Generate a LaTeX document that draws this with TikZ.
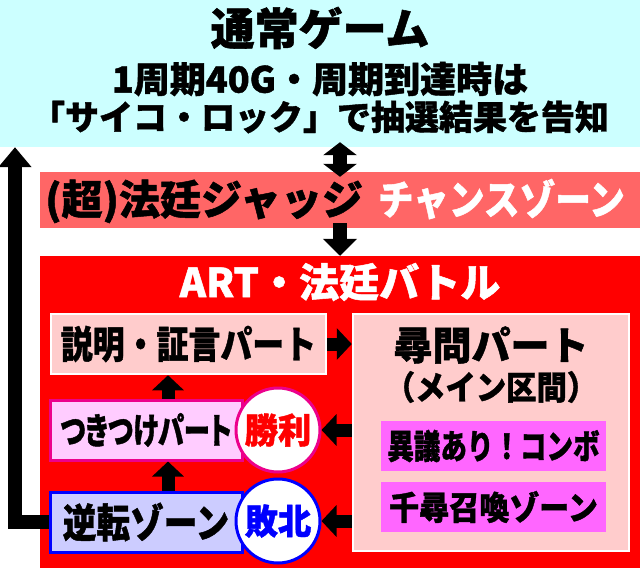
\documentclass[tikz,border=0pt]{standalone}
\usepackage{fontspec}
\usepackage{graphicx}
\usetikzlibrary{arrows.meta,calc}
\newfontfamily\jpfont{Noto Sans CJK JP}[BoldFeatures={FakeBold=1.2}]
\newfontfamily\jppfont{Noto Sans CJK JP}[RawFeature=+palt,BoldFeatures={FakeBold=1.2}]
\newcommand{\fsz}[1]{\fontsize{#1}{#1}\selectfont}
\newcommand{\sq}[2]{\scalebox{#1}[1]{#2}}
\definecolor{normalbg}{HTML}{CCFFFF}
\definecolor{judgebg}{HTML}{FF6666}
\definecolor{partbg}{HTML}{FFCCCC}
\definecolor{combobg}{HTML}{FF66FF}
\definecolor{tsukibg}{HTML}{FFCCFF}
\definecolor{gyakubg}{HTML}{CCCCFF}
\definecolor{winred}{HTML}{FF0000}
\definecolor{loseblue}{HTML}{0000FF}
\begin{document}
\begin{tikzpicture}
			[x=1pt,y=-1pt,
			every node/.style={inner sep=0pt},
			txt/.style={font=\jpfont\bfseries\fsz{#1}},
			ptxt/.style={font=\jppfont\bfseries\fsz{#1}},
			part/.style={draw=white,line width=2.5pt,fill=partbg},
			combo/.style={fill=combobg,minimum width=225pt,minimum height=50pt},
			result/.style={circle,fill=white,line width=3pt,minimum size=84pt},
			fat/.style={line width=13pt,-{Triangle[width=31pt,length=15pt]}},
			dbl/.style={line width=14pt,{Triangle[width=33pt,length=13pt]}-{Triangle[width=33pt,length=13pt]}}]
			\useasboundingbox (0,0) rectangle (640,570);
			% normal game
			\node[fill=normalbg,minimum width=640pt,minimum height=147pt] (normal) at (320,73.5) {};
			\node[txt=44] (title) at (320,28) {通常ゲーム};
			\node[txt=36] (cycle) at (320,79) {1周期40G・周期到達時は};
			\node[txt=34] (notice) at (320,117) {「サイコ・ロック」で抽選結果を告知};
			% chance zone
			\node[fill=judgebg,minimum width=600pt,minimum height=56pt] (judge) at (340,200) {};
			\node[txt=41,anchor=west] (judgetext) at (45,201) {(超)法廷ジャッジ\hspace{15pt}\textcolor{white}{\sq{0.87}{チャンスゾーン}}};
			% ART
			\node[fill=red,minimum width=600pt,minimum height=312pt] (art) at (340,412) {};
			\node[txt=40,text=white] (arttitle) at (340,282) {ART・法廷バトル};
			\node[part,txt=38,minimum width=275pt,minimum height=60pt] (setsumei) at (188.5,344) {\sq{0.84}{説明・証言パート}};
			\node[part,minimum width=276pt,minimum height=237pt] (jinmon) at (491,432.5) {};
			\node[txt=39] (jinmontitle) at (491,345) {尋問パート};
			\node[txt=33] (mainpart) at (491,387) {\sq{0.92}{（メイン区間）}};
			\node[combo,txt=34] (igi) at (493.5,446) {\sq{0.78}{異議あり！コンボ}};
			\node[combo,txt=33] (chihiro) at (493.5,507) {\sq{0.91}{千尋召喚ゾーン}};
			\node[fill=tsukibg,draw=magenta,line width=3pt,ptxt=36,minimum width=192pt,minimum height=60pt] (tsukitsuke) at (146,430) {\sq{0.73}{つきつけパート}};
			\node[fill=gyakubg,draw=loseblue,line width=3pt,txt=40,minimum width=192pt,minimum height=60pt] (gyakuten) at (146,522) {\sq{0.84}{逆転ゾーン}};
			\node[result,draw=magenta,txt=35,text=winred] (shori) at (278,430) {\sq{0.95}{勝利}};
			\node[result,draw=loseblue,txt=35,text=loseblue] (haiboku) at (278,521) {\sq{0.95}{敗北}};
			% arrows
			\coordinate (upx) at (168,0);
			\coordinate (back) at (15,0);
			\draw[dbl] ($(judge.north)+(0,5)$) -- ($(judge.north |- normal.south)+(0,-5)$);
			\draw[line width=14pt,-{Triangle[width=33pt,length=17pt]}] ($(judge.south)+(0,-5)$) -- (art.north);
			\draw[fat] (setsumei.east) -- (setsumei.east -| jinmon.west);
			\draw[fat] (jinmon.west |- shori) -- (shori.east);
			\draw[fat] (jinmon.west |- haiboku) -- (haiboku.east);
			\draw[fat] (upx |- tsukitsuke.north) -- (upx |- setsumei.south);
			\draw[fat] (upx |- gyakuten.north) -- (upx |- tsukitsuke.south);
			\draw[line width=14pt,-{Triangle[width=32pt,length=20pt]}] (gyakuten.west) -| (back |- normal.south);
		\end{tikzpicture}
\end{document}
